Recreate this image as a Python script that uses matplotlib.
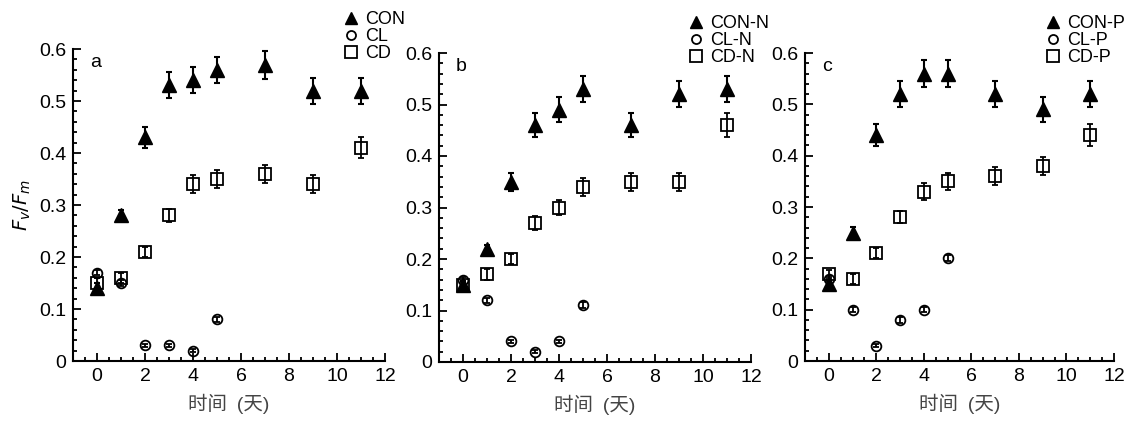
# Fv/Fm time courses, three panels
import numpy as np
import matplotlib.pyplot as plt
from matplotlib.lines import Line2D
from matplotlib.ticker import MultipleLocator

plt.rcParams['font.family'] = ['Liberation Sans', 'Noto Sans CJK SC', 'DejaVu Sans']

days_long = [0, 1, 2, 3, 4, 5, 7, 9, 11]
days_short = [0, 1, 2, 3, 4, 5]

# panel a
con_a = [0.14, 0.28, 0.43, 0.53, 0.54, 0.56, 0.57, 0.52, 0.52]
con_a_err = [0.01, 0.01, 0.02, 0.025, 0.025, 0.025, 0.027, 0.025, 0.025]
cl_a = [0.17, 0.15, 0.03, 0.03, 0.02, 0.08]
cl_a_err = [0.005, 0.005, 0.003, 0.003, 0.003, 0.005]
cd_a = [0.15, 0.16, 0.21, 0.28, 0.34, 0.35, 0.36, 0.34, 0.41]
cd_a_err = [0.01, 0.01, 0.01, 0.012, 0.017, 0.017, 0.017, 0.017, 0.02]

# panel b
con_b = [0.15, 0.22, 0.35, 0.46, 0.49, 0.53, 0.46, 0.52, 0.53]
con_b_err = [0.008, 0.008, 0.017, 0.023, 0.024, 0.025, 0.023, 0.025, 0.025]
cl_b = [0.16, 0.12, 0.04, 0.02, 0.04, 0.11]
cl_b_err = [0.005, 0.005, 0.003, 0.003, 0.003, 0.006]
cd_b = [0.15, 0.17, 0.20, 0.27, 0.30, 0.34, 0.35, 0.35, 0.46]
cd_b_err = [0.008, 0.01, 0.01, 0.014, 0.015, 0.017, 0.017, 0.017, 0.023]

# panel c
con_c = [0.15, 0.25, 0.44, 0.52, 0.56, 0.56, 0.52, 0.49, 0.52]
con_c_err = [0.008, 0.012, 0.022, 0.025, 0.027, 0.027, 0.025, 0.024, 0.025]
cl_c = [0.16, 0.10, 0.03, 0.08, 0.10, 0.20]
cl_c_err = [0.005, 0.005, 0.003, 0.005, 0.005, 0.006]
cd_c = [0.17, 0.16, 0.21, 0.28, 0.33, 0.35, 0.36, 0.38, 0.44]
cd_c_err = [0.008, 0.01, 0.01, 0.012, 0.016, 0.017, 0.017, 0.018, 0.022]

panel_letters = ['a', 'b', 'c']
legend_labels = [['CON', 'CL', 'CD'],
                 ['CON-N', 'CL-N', 'CD-N'],
                 ['CON-P', 'CL-P', 'CD-P']]
panels = [(con_a, con_a_err, cl_a, cl_a_err, cd_a, cd_a_err),
          (con_b, con_b_err, cl_b, cl_b_err, cd_b, cd_b_err),
          (con_c, con_c_err, cl_c, cl_c_err, cd_c, cd_c_err)]

W, H = 1133, 421
fig = plt.figure(figsize=(W / 100, H / 100), dpi=100)

# axes boxes in pixels: left, right, top, bottom
boxes = [(73, 385, 49, 361), (439, 751, 53, 362), (805, 1114, 53, 361)]
legend_pos = [(335, 2), (680, 6), (1037, 6)]

for i, (l, r, t, b) in enumerate(boxes):
    ax = fig.add_axes([l / W, 1 - b / H, (r - l) / W, (b - t) / H])
    con, con_err, cl, cl_err, cd, cd_err = panels[i]

    ax.errorbar(days_long, cd, yerr=cd_err, fmt='s', ms=9, mfc='none', mec='black',
                mew=1.3, ecolor='black', elinewidth=1.3, capsize=2.5, capthick=1.3)
    ax.errorbar(days_short, cl, yerr=cl_err, fmt='o', ms=7, mfc='none', mec='black',
                mew=1.3, ecolor='black', elinewidth=1.3, capsize=2, capthick=1.3)
    ax.errorbar(days_long, con, yerr=con_err, fmt='^', ms=10, color='black',
                ecolor='black', elinewidth=1.5, capsize=2.5, capthick=1.5)

    ax.set_xlim(-1, 12)
    ax.set_ylim(0, 0.6)
    ax.xaxis.set_major_locator(MultipleLocator(2))
    ax.xaxis.set_minor_locator(MultipleLocator(0.5))
    ax.yaxis.set_minor_locator(MultipleLocator(0.02))
    ax.set_yticks([0, 0.1, 0.2, 0.3, 0.4, 0.5, 0.6])
    ax.set_yticklabels(['0', '0.1', '0.2', '0.3', '0.4', '0.5', '0.6'])
    ax.tick_params(which='both', direction='in', labelsize=14, width=1.3)
    ax.tick_params(which='major', length=6, pad=5)
    ax.tick_params(which='minor', length=3)
    for s in ['top', 'right']:
        ax.spines[s].set_visible(False)
    for s in ['left', 'bottom']:
        ax.spines[s].set_linewidth(1.5)

    ax.set_xlabel('时间\u2002(天)', fontsize=14, color='#444444', labelpad=6)
    if i == 0:
        ax.set_ylabel(r'$F_v/F_m$', fontsize=14, labelpad=4)
    ax.text(0.055, 0.985, panel_letters[i], transform=ax.transAxes,
            fontsize=14, va='top', ha='left')

    handles = [Line2D([], [], ls='none', marker='^', ms=9, color='black'),
               Line2D([], [], ls='none', marker='o', ms=6.5, mfc='none', mec='black', mew=1.3),
               Line2D([], [], ls='none', marker='s', ms=8, mfc='none', mec='black', mew=1.3)]
    lx, ly = legend_pos[i]
    fig.legend(handles, legend_labels[i], loc='upper left',
               bbox_to_anchor=(lx / W, 1 - ly / H), frameon=False, fontsize=13,
               handlelength=0.8, handletextpad=0.35, labelspacing=0.0, borderpad=0)

fig.savefig('out.png', dpi=100)
